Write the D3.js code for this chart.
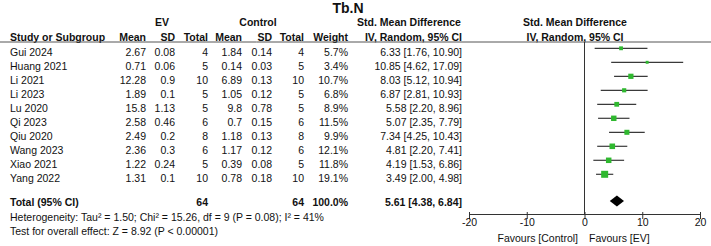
<!DOCTYPE html>
<html><head><meta charset="utf-8">
<script src="https://cdn.jsdelivr.net/npm/d3@7"></script>
<style>
html,body{margin:0;padding:0;background:#fff;}
svg{display:block;font-family:"Liberation Sans",Arial,sans-serif;}
</style></head>
<body>
<svg id="c" width="711" height="246"></svg>
<script>
const studies = ["Gui 2024","Huang 2021","Li 2021","Li 2023","Lu 2020","Qi 2023","Qiu 2020","Wang 2023","Xiao 2021","Yang 2022"];
const evMean = [2.67,0.71,12.28,1.89,15.8,2.58,2.49,2.36,1.22,1.31];
const evSD = [0.08,0.06,0.9,0.1,1.13,0.46,0.2,0.3,0.24,0.1];
const evN = [4,5,10,5,5,6,8,6,5,10];
const ctlMean = [1.84,0.14,6.89,1.05,9.8,0.7,1.18,1.17,0.39,0.78];
const ctlSD = [0.14,0.03,0.13,0.12,0.78,0.15,0.13,0.12,0.08,0.18];
const ctlN = [4,5,10,5,5,6,8,6,5,10];
const weights = [5.7,3.4,10.7,6.8,8.9,11.5,9.9,12.1,11.8,19.1];
const smd = [6.33,10.85,8.03,6.87,5.58,5.07,7.34,4.81,4.19,3.49];
const ciLow = [1.76,4.62,5.12,2.81,2.20,2.35,4.25,2.20,1.53,2.00];
const ciHigh = [10.90,17.09,10.94,10.93,8.96,7.79,10.43,7.41,6.86,4.98];
const totalN = [64,64];
const totalWeight = 100.0;
const pooled = [5.61,4.38,6.84];
const xTicks = [-20,-10,0,10,20];
const heterogeneityText = "Heterogeneity: Tau\u00B2 = 1.50; Chi\u00B2 = 15.26, df = 9 (P = 0.08); I\u00B2 = 41%";
const overallText = "Test for overall effect: Z = 8.92 (P < 0.00001)";

const svg = d3.select("#c");
const FS = 10.5;
const x = d3.scaleLinear().domain([-20,20]).range([469,700]);
const y = d3.scalePoint().domain(studies).range([48.3,174.3]);
const yTotal = 201;
const axisY = 214;
const txtOff = 7.5;

function txt(xp, yp, s, anchor, bold, size){
  return svg.append("text").attr("x",xp).attr("y",yp).attr("text-anchor",anchor||"start")
    .attr("font-size",size||FS).attr("font-weight",bold?"bold":"normal").attr("fill","#111").text(s);
}

// title
txt(348, 13, "Tb.N", "middle", true, 14);
// headers
txt(162, 26, "EV", "middle", true);
txt(258, 26, "Control", "middle", true);
txt(409, 26, "Std. Mean Difference", "middle", true);
txt(575, 26, "Std. Mean Difference", "middle", true);
const hy = 40.5;
txt(10, hy, "Study or Subgroup", "start", true);
txt(146, hy, "Mean", "end", true);
txt(175, hy, "SD", "end", true);
txt(208, hy, "Total", "end", true);
txt(242, hy, "Mean", "end", true);
txt(272, hy, "SD", "end", true);
txt(304, hy, "Total", "end", true);
txt(348, hy, "Weight", "end", true);
txt(462, hy, "IV, Random, 95% CI", "end", true);
txt(575, hy, "IV, Random, 95% CI", "middle", true);
svg.append("line").attr("x1",0).attr("x2",711).attr("y1",42).attr("y2",42).attr("stroke","#555").attr("stroke-width",1);

// rows
studies.forEach((s,i)=>{
  const yy = y(s) + txtOff;
  txt(10, yy, s);
  txt(146, yy, String(evMean[i]), "end");
  txt(175, yy, String(evSD[i]), "end");
  txt(208, yy, String(evN[i]), "end");
  txt(242, yy, String(ctlMean[i]), "end");
  txt(272, yy, String(ctlSD[i]), "end");
  txt(304, yy, String(ctlN[i]), "end");
  txt(348, yy, weights[i].toFixed(1)+"%", "end");
  txt(462, yy, smd[i].toFixed(2)+" ["+ciLow[i].toFixed(2)+", "+ciHigh[i].toFixed(2)+"]", "end");
});

// total row
const tY = 206;
txt(10, tY, "Total (95% CI)", "start", true);
txt(208, tY, String(totalN[0]), "end", true);
txt(304, tY, String(totalN[1]), "end", true);
txt(348, tY, totalWeight.toFixed(1)+"%", "end", true);
txt(462, tY, pooled[0].toFixed(2)+" ["+pooled[1].toFixed(2)+", "+pooled[2].toFixed(2)+"]", "end", true);
txt(10, 220.5, heterogeneityText);
txt(10, 235, overallText);

// zero line
svg.append("line").attr("x1",x(0)).attr("x2",x(0)).attr("y1",42).attr("y2",axisY).attr("stroke","#333").attr("stroke-width",1);

// CI lines and squares
const g = svg.append("g");
g.selectAll("line.ci").data(studies).join("line").attr("class","ci")
  .attr("x1",(d,i)=>x(ciLow[i])).attr("x2",(d,i)=>x(Math.min(ciHigh[i],20)))
  .attr("y1",d=>y(d)).attr("y2",d=>y(d)).attr("stroke","#3a3a3a").attr("stroke-width",1.2);
const side = w => 1.6*Math.sqrt(w);
g.selectAll("rect.sq").data(studies).join("rect").attr("class","sq")
  .attr("x",(d,i)=>x(smd[i])-side(weights[i])/2).attr("y",(d,i)=>y(d)-side(weights[i])/2)
  .attr("width",(d,i)=>side(weights[i])).attr("height",(d,i)=>side(weights[i]))
  .attr("fill","#2fb82f");

// diamond
svg.append("path").attr("d",
  `M${x(pooled[1])},${yTotal} L${x(pooled[0])},${yTotal-5.5} L${x(pooled[2])},${yTotal} L${x(pooled[0])},${yTotal+5.5} Z`)
  .attr("fill","#000");

// axis
const ax = svg.append("g").attr("transform",`translate(0,${axisY})`)
  .call(d3.axisBottom(x).tickValues(xTicks).tickSize(5).tickSizeOuter(0).tickFormat(d3.format("d")));
ax.select(".domain").attr("stroke","#333");
ax.selectAll(".tick line").attr("stroke","#333").attr("y1",-2);
ax.selectAll(".tick text").attr("font-size",10.5).attr("font-family","Liberation Sans, Arial, sans-serif").attr("fill","#111").attr("dy","0.6em").attr("y",6);
ax.selectAll(".tick text").text(d=> d<0 ? "-"+Math.abs(d) : String(d));

txt(578, 242, "Favours [Control]", "end");
txt(589, 242, "Favours [EV]", "start");
</script>
</body></html>
